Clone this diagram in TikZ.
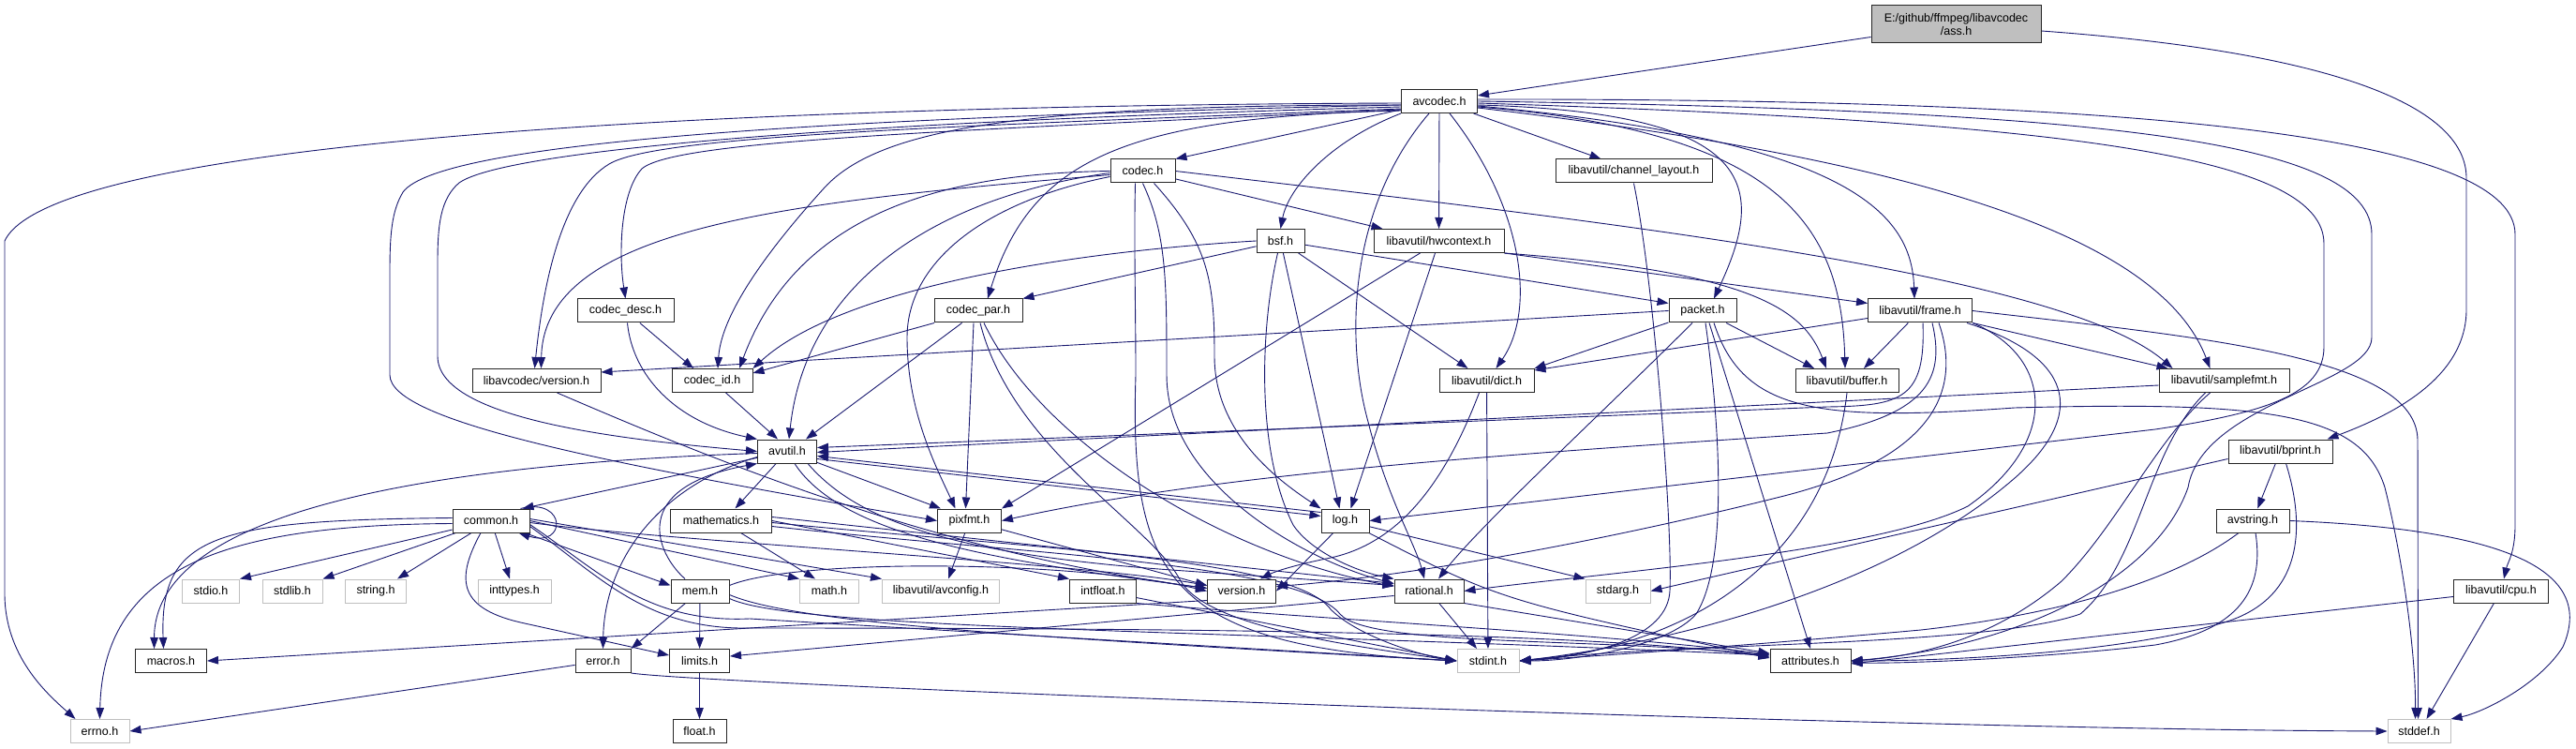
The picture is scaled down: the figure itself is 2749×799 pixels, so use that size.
\documentclass[tikz,border=0pt]{standalone}
\usepackage{fontspec}
\setmainfont{Liberation Sans}
\usetikzlibrary{arrows.meta}
\definecolor{edgeblue}{HTML}{191970}
\definecolor{sysgray}{HTML}{BFBFBF}
\definecolor{rootgray}{HTML}{BFBFBF}
\pgfdeclarelayer{bg}
\pgfsetlayers{bg,main}
\newcommand\nodefont{\fontsize{12.5}{14}\selectfont}
\begin{document}
\begin{tikzpicture}[x=1pt,y=-1pt,
  hdr/.style={draw=black!85, line width=1pt, fill=white, inner sep=0pt, minimum height=25pt, font=\nodefont, text=black},
  sys/.style={hdr, draw=sysgray},
  dep/.style={draw=edgeblue, line width=0.9pt, -{Triangle[length=12pt,width=8.5pt]}}]
\useasboundingbox (0,0) rectangle (2749,799);
% ---------- nodes ----------
\node[hdr, fill=rootgray, minimum width=181pt, minimum height=40pt, align=center] (ass) at (2087.5,26) {E:/github/ffmpeg/libavcodec\\/ass.h};
\node[hdr, minimum width=81pt] (avcodec) at (1536,108) {avcodec.h};
\node[hdr, minimum width=69pt] (codec) at (1219.5,182.5) {codec.h};
\node[hdr, minimum width=167pt] (chl) at (1743.5,182.5) {libavutil/channel\_layout.h};
\node[hdr, minimum width=51pt] (bsf) at (1366.5,257) {bsf.h};
\node[hdr, minimum width=139pt] (hwc) at (1535.5,257) {libavutil/hwcontext.h};
\node[hdr, minimum width=103pt] (cdesc) at (667.5,331.5) {codec\_desc.h};
\node[hdr, minimum width=94pt] (cpar) at (1044,331.5) {codec\_par.h};
\node[hdr, minimum width=72pt] (packet) at (1817,331.5) {packet.h};
\node[hdr, minimum width=111pt] (frame) at (2049,331.5) {libavutil/frame.h};
\node[hdr, minimum width=137pt] (lver) at (572.5,406) {libavcodec/version.h};
\node[hdr, minimum width=86pt] (cid) at (760,406) {codec\_id.h};
\node[hdr, minimum width=101pt] (dict) at (1586.5,406) {libavutil/dict.h};
\node[hdr, minimum width=110pt] (buffer) at (1971,406) {libavutil/buffer.h};
\node[hdr, minimum width=139pt] (sfmt) at (2373.5,406) {libavutil/samplefmt.h};
\node[hdr, minimum width=63pt] (avutil) at (840,481.5) {avutil.h};
\node[hdr, minimum width=111pt] (bprint) at (2433.5,481.5) {libavutil/bprint.h};
\node[hdr, minimum width=82pt] (common) at (524,555.5) {common.h};
\node[hdr, minimum width=108pt] (mathe) at (769.5,555.5) {mathematics.h};
\node[hdr, minimum width=68pt] (pixfmt) at (1034.5,555.5) {pixfmt.h};
\node[hdr, minimum width=51pt] (log) at (1435.5,555.5) {log.h};
\node[hdr, minimum width=78pt] (avstr) at (2404,555.5) {avstring.h};
\node[sys, minimum width=61pt] (stdio) at (225,630.5) {stdio.h};
\node[sys, minimum width=64pt] (stdlib) at (312,630.5) {stdlib.h};
\node[sys, minimum width=65pt] (string) at (401,630.5) {string.h};
\node[sys, minimum width=78pt] (inttypes) at (549,630.5) {inttypes.h};
\node[hdr, minimum width=62pt] (mem) at (747,630.5) {mem.h};
\node[sys, minimum width=63pt] (mathh) at (885,630.5) {math.h};
\node[sys, minimum width=125pt] (avconf) at (1004,630.5) {libavutil/avconfig.h};
\node[hdr, minimum width=71pt] (intfloat) at (1177,630.5) {intfloat.h};
\node[hdr, minimum width=73pt] (ver) at (1325,630.5) {version.h};
\node[hdr, minimum width=74pt] (rational) at (1525,630.5) {rational.h};
\node[sys, minimum width=69pt] (stdarg) at (1726.5,630.5) {stdarg.h};
\node[hdr, minimum width=101pt] (cpu) at (2669,630.5) {libavutil/cpu.h};
\node[hdr, minimum width=76pt] (macros) at (182.5,705) {macros.h};
\node[hdr, minimum width=59pt] (error) at (643.5,705) {error.h};
\node[hdr, minimum width=64pt] (limits) at (746.5,705) {limits.h};
\node[sys, minimum width=66pt] (stdint) at (1588,705) {stdint.h};
\node[hdr, minimum width=86pt] (attr) at (1932,705) {attributes.h};
\node[sys, minimum width=63pt] (errno) at (106.5,780) {errno.h};
\node[hdr, minimum width=57pt] (float) at (746.5,780) {float.h};
\node[sys, minimum width=67pt] (stddef) at (2581.5,780) {stddef.h};
% ---------- edges ----------
\begin{pgfonlayer}{bg}
\fill[white] (0,0) rectangle (2749,799);
% ass.h
\draw[dep] (ass) -- (avcodec);
\draw[dep] ([yshift=-7pt]ass.east) .. controls (2480,55) and (2632,110) .. (2632,190) -- (2632,330) .. controls (2632,400) and (2560,440) .. ([xshift=-6pt]bprint.north east);
% avcodec.h
\draw[dep] ([yshift=-2pt]avcodec.west) .. controls (900,112) and (60,140) .. (5,257) -- (5,633) .. controls (5,700) and (50,740) .. ([xshift=6pt]errno.north west);
\draw[dep] ([yshift=-4pt]avcodec.west) .. controls (900,125) and (470,150) .. (430,205) .. controls (418,225) and (416,250) .. (416,290) -- (416,400) .. controls (416,450) and (650,495) .. (pixfmt.west);
\draw[dep] ([yshift=-6pt]avcodec.west) .. controls (900,130) and (540,160) .. (490,195) .. controls (470,212) and (467,240) .. (467,280) -- (467,380) .. controls (467,445) and (650,468) .. (avutil.west);
\draw[dep] ([yshift=-8pt]avcodec.west) .. controls (1000,135) and (700,145) .. (650,175) .. controls (600,205) and (580,300) .. ([xshift=-2pt]lver.north);
\draw[dep] ([yshift=-9pt]avcodec.west) .. controls (1000,140) and (720,150) .. (685,180) .. controls (662,205) and (660,270) .. (cdesc.north);
\draw[dep] ([yshift=-4pt]avcodec.west) .. controls (1100,112) and (940,135) .. (880,200) .. controls (830,255) and (770,330) .. ([xshift=6pt]cid.north);
\draw[dep] ([yshift=-10pt]avcodec.west) .. controls (1200,125) and (1100,170) .. ([xshift=10pt]cpar.north);
\draw[dep] (avcodec) -- (codec.north east);
\draw[dep] (avcodec.south west) .. controls (1420,150) and (1375,200) .. (bsf.north);
\draw[dep] (avcodec) -- (hwc);
\draw[dep] (avcodec) -- ([xshift=-35pt]chl.north);
\draw[dep] ([xshift=-11pt]avcodec.south) .. controls (1440,220) and (1435,360) .. (1460,450) .. controls (1480,530) and (1510,580) .. ([xshift=-5pt]rational.north);
\draw[dep] ([xshift=11pt]avcodec.south) .. controls (1625,220) and (1640,330) .. ([xshift=10pt]dict.north);
\draw[dep] ([yshift=-4pt]avcodec.east) .. controls (1880,120) and (1885,200) .. ([xshift=12pt]packet.north);
\draw[dep] ([yshift=-6pt]avcodec.east) .. controls (1900,140) and (1965,240) .. ([xshift=-2pt]buffer.north);
\draw[dep] ([yshift=-5pt]avcodec.east) .. controls (1980,150) and (2040,230) .. ([xshift=-6pt]frame.north);
\draw[dep] ([yshift=-7pt]avcodec.east) .. controls (2000,165) and (2300,240) .. ([xshift=-15pt]sfmt.north);
\draw[dep] ([yshift=-2pt]avcodec.east) .. controls (2200,130) and (2480,165) .. (2480,260) -- (2480,370) .. controls (2480,420) and (2420,440) .. (2300,458) -- (log.east);
\draw[dep] (avcodec.east) .. controls (2250,118) and (2531,150) .. (2531,250) -- (2531,360) .. controls (2531,410) and (2350,430) .. (2335,520) .. controls (2300,620) and (2150,690) .. (attr.east);
\draw[dep] ([yshift=2pt]avcodec.east) .. controls (2250,105) and (2684,140) .. (2684,250) -- (2684,560) .. controls (2684,590) and (2676,600) .. ([xshift=3pt]cpu.north);
% codec.h
\draw[dep] (codec.west) .. controls (1000,185) and (850,230) .. ([xshift=29pt]cid.north);
\draw[dep] ([yshift=-4pt]codec.west) .. controls (850,215) and (580,240) .. ([xshift=5pt]lver.north);
\draw[dep] ([yshift=-6pt]codec.west) .. controls (1050,215) and (968,280) .. (968,360) .. controls (968,440) and (1000,500) .. ([xshift=-15pt]pixfmt.north);
\draw[dep] ([yshift=-2pt]codec.west) .. controls (1000,210) and (860,300) .. ([xshift=2pt]avutil.north);
\draw[dep] (codec) -- ([xshift=10pt]hwc.north west);
\draw[dep] (codec.east) .. controls (1700,235) and (2200,290) .. ([xshift=-55pt]sfmt.north);
\draw[dep] ([xshift=12pt]codec.south) .. controls (1290,260) and (1296,300) .. (1296,380) .. controls (1296,460) and (1360,510) .. (log.north west);
\draw[dep] (codec.south) .. controls (1245,250) and (1245,300) .. (1245,400) .. controls (1245,520) and (1400,600) .. ([yshift=8pt]rational.west);
\draw[dep] ([xshift=-8pt]codec.south) .. controls (1210,260) and (1212,330) .. (1212,400) .. controls (1205,620) and (1250,690) .. (stdint.west);
% codec_desc.h, codec_par.h, codec_id.h
\draw[dep] (cdesc) -- ([xshift=-20pt]cid.north);
\draw[dep] ([xshift=2pt]cdesc.south) .. controls (675,400) and (720,450) .. (avutil.north west);
\draw[dep] (cpar) -- ([yshift=-5pt]cid.north east);
\draw[dep] (cpar) -- ([xshift=20pt]avutil.north);
\draw[dep] ([xshift=-5pt]cpar.south) -- ([xshift=-4pt]pixfmt.north);
\draw[dep] ([xshift=6pt]cpar.south) .. controls (1110,470) and (1300,590) .. ([yshift=5pt]rational.west);
\draw[dep] ([xshift=2pt]cpar.south) .. controls (1080,480) and (1230,560) .. (1260,620) .. controls (1290,670) and (1450,690) .. (stdint.west);
\draw[dep] (cid) -- ([xshift=-10pt]avutil.north);
% libavcodec/version.h
\draw[dep] ([xshift=22pt]lver.south) .. controls (760,490) and (1000,590) .. ([yshift=3pt]ver.west);
% bsf.h
\draw[dep] (bsf) -- (cpar.north east);
\draw[dep] (bsf.west) .. controls (1150,268) and (900,305) .. (cid.north east);
\draw[dep] (bsf) -- ([yshift=8pt]packet.west);
\draw[dep] (bsf) -- ([xshift=-20pt]dict.north);
\draw[dep] (bsf) -- ([xshift=-6pt]log.north);
\draw[dep] ([xshift=-3pt]bsf.south) .. controls (1345,350) and (1340,480) .. (1380,560) .. controls (1400,590) and (1450,610) .. (rational.north west);
% hwcontext.h
\draw[dep] (hwc.south east) .. controls (1870,290) and (1925,330) .. ([xshift=-22pt]buffer.north);
\draw[dep] (hwc.south east) -- ([yshift=8pt]frame.west);
\draw[dep] ([xshift=-4pt]hwc.south) .. controls (1505,350) .. ([xshift=6pt]log.north);
\draw[dep] ([xshift=-20pt]hwc.south) -- (pixfmt.north east);
% channel_layout.h
\draw[dep] (chl.south) .. controls (1765,300) and (1785,560) .. (1782,630) .. controls (1780,680) and (1700,700) .. (stdint.east);
% packet.h
\draw[dep] (packet.west) -- ([yshift=9pt]lver.east);
\draw[dep] (packet) -- (dict.north east);
\draw[dep] (packet) -- ([xshift=-35pt]buffer.north);
\draw[dep] ([xshift=-11pt]packet.south) .. controls (1700,450) and (1580,560) .. ([xshift=10pt]rational.north);
\draw[dep] ([xshift=3pt]packet.south) .. controls (1835,450) and (1845,600) .. (1810,655) .. controls (1780,690) and (1680,705) .. (stdint.east);
\draw[dep] ([xshift=7pt]packet.south) -- (attr.north);
\draw[dep] ([xshift=12pt]packet.south) .. controls (1860,440) and (1940,450) .. (2150,435) .. controls (2420,428) and (2520,440) .. (2545,520) .. controls (2565,600) and (2578,700) .. ([xshift=-4pt]stddef.north);
% frame.h
\draw[dep] (frame) -- ([xshift=18pt]buffer.north);
\draw[dep] ([yshift=-8pt]frame.west) -- ([yshift=-2pt]dict.north east);
\draw[dep] (frame) -- ([xshift=-60pt]sfmt.north);
\draw[dep] ([xshift=3pt]frame.south) .. controls (2055,425) and (2030,433) .. (1950,434) -- ([yshift=4pt]avutil.east);
\draw[dep] ([xshift=13pt]frame.south) .. controls (2075,400) and (2060,440) .. (1950,462) .. controls (1600,485) and (1300,505) .. (pixfmt.east);
\draw[dep] ([xshift=20pt]frame.south) .. controls (2095,420) and (2060,490) .. (1900,530) .. controls (1700,580) and (1500,615) .. ([yshift=5pt]ver.east);
\draw[dep] (frame.south east) .. controls (2190,380) and (2200,470) .. (2100,540) .. controls (2000,590) and (1700,612) .. (rational.east);
\draw[dep] ([xshift=50pt]frame.south) .. controls (2210,380) and (2230,440) .. (2150,510) .. controls (2000,640) and (1750,690) .. (stdint.east);
\draw[dep] (frame.east) .. controls (2350,360) and (2580,380) .. (2580,470) -- ([xshift=-1pt]stddef.north);
% dict.h, buffer.h
\draw[dep] (dict) -- (stdint);
\draw[dep] ([xshift=-8pt]dict.south) .. controls (1540,520) and (1490,580) .. (1420,595) .. controls (1380,603) and (1360,610) .. ([xshift=20pt]ver.north);
\draw[dep] (buffer.south) .. controls (1950,600) and (1800,690) .. (stdint.east);
% samplefmt.h
\draw[dep] ([yshift=-5pt]sfmt.west) -- ([yshift=-1pt]avutil.east);
\draw[dep] ([xshift=-15pt]sfmt.south) .. controls (2300,470) and (2260,560) .. (2200,620) .. controls (2130,680) and (2050,700) .. (attr.east);
\draw[dep] ([xshift=-20pt]sfmt.south) .. controls (2290,480) and (2285,600) .. (2220,655) .. controls (2120,690) and (1800,685) .. (stdint.east);
% bprint.h
\draw[dep] (bprint) -- (avstr);
\draw[dep] ([xshift=6pt]bprint.south) .. controls (2460,560) and (2460,640) .. (2370,665) .. controls (2250,700) and (2050,705) .. (attr.east);
\draw[dep] ([yshift=-8pt]bprint.west) -- (stdarg.east);
% avstring.h
\draw[dep] (avstr.east) .. controls (2680,565) and (2770,610) .. (2735,690) .. controls (2710,730) and (2650,760) .. (stddef.north east);
\draw[dep] ([xshift=-15pt]avstr.south) .. controls (2320,620) and (2200,655) .. (2050,672) .. controls (1850,690) and (1700,700) .. (stdint.east);
\draw[dep] ([xshift=3pt]avstr.south) .. controls (2415,620) and (2400,670) .. (2300,688) .. controls (2200,700) and (2050,708) .. ([yshift=-2pt]attr.east);
% cpu.h
\draw[dep] (cpu) -- ([xshift=8pt]stddef.north);
\draw[dep] ([yshift=-6pt]cpu.west) -- ([yshift=-3pt]attr.east);
% avutil.h
\draw[dep] (avutil) -- ([xshift=-8pt]common.north east);
\draw[dep] ([yshift=-6pt]avutil.west) .. controls (700,520) and (645,600) .. (error.north);
\draw[dep] ([yshift=-2pt]avutil.west) .. controls (480,495) and (165,540) .. ([xshift=-18pt]macros.north);
\draw[dep] (avutil) -- ([xshift=15pt]mathe.north);
\draw[dep] ([yshift=-8pt]avutil.east) -- ([yshift=5pt]log.west);
\draw[dep] (avutil) -- ([xshift=4pt]pixfmt.north west);
\draw[dep] ([xshift=22pt]avutil.south) .. controls (910,550) and (1000,590) .. (1250,608) -- ([yshift=6pt]rational.west);
\draw[dep] ([xshift=8pt]avutil.south) .. controls (900,575) and (1080,600) .. ([yshift=3pt]ver.west);
% log.h
\draw[dep] (log) -- (stdarg.north west);
\draw[dep] (log) .. controls (1600,640) .. ([yshift=3pt]attr.west);
\draw[dep] (log) -- (ver.east);
\draw[dep] ([yshift=9pt]log.west) -- ([yshift=-5pt]avutil.east);
% pixfmt.h
\draw[dep] (pixfmt) -- ([xshift=8pt]avconf.north);
\draw[dep] (pixfmt) -- ([yshift=6pt]ver.west);
% common.h
\draw[dep] (common) -- (stdio.north east);
\draw[dep] (common) -- (stdlib.north east);
\draw[dep] (common) -- ([xshift=-10pt]string.north east);
\draw[dep] (common) -- ([xshift=-5pt]inttypes.north);
\draw[dep] ([yshift=-3pt]common.west) .. controls (250,560) and (110,600) .. (errno.north);
\draw[dep] ([yshift=3pt]common.west) .. controls (230,555) and (170,570) .. ([xshift=-8pt]macros.north);
\draw[dep] ([xshift=-10pt]common.north east) .. controls (605,530) and (605,585) .. ([xshift=-12pt]common.south east);
\draw[dep] (common) -- ([yshift=6pt]mem.west);
\draw[dep] ([xshift=-11pt]common.south) .. controls (485,620) and (490,650) .. (560,665) -- ([yshift=6pt]limits.west);
\draw[dep] (common.east) -- (mathh.north west);
\draw[dep] ([yshift=2pt]common.east) -- (avconf.north west);
\draw[dep] ([yshift=-2pt]common.east) .. controls (720,578) and (1150,600) .. ([yshift=6pt]ver.west);
\draw[dep] ([yshift=-4pt]common.east) .. controls (640,610) and (690,665) .. (800,660) -- (stdint.west);
\draw[dep] ([yshift=-6pt]common.east) .. controls (640,615) and (690,672) .. (800,670) .. controls (1300,670) and (1700,675) .. ([yshift=4pt]attr.west);
% mem.h
\draw[dep] (mem) -- (limits);
\draw[dep] ([xshift=-16pt]mem.north) .. controls (700,590) and (670,520) .. (avutil.south west);
\draw[dep] (mem) -- (error.north east);
\draw[dep] ([yshift=6pt]mem.east) .. controls (850,595) and (1150,598) .. (ver.west);
\draw[dep] ([yshift=-4pt]mem.east) .. controls (850,665) and (1100,680) .. (stdint.west);
\draw[dep] ([yshift=-8pt]mem.east) .. controls (850,672) and (1300,672) .. ([yshift=6pt]attr.west);
% mathematics.h
\draw[dep] (mathe) -- ([xshift=-15pt]mathh.north);
\draw[dep] (mathe.east) -- (intfloat.north west);
\draw[dep] ([yshift=4pt]mathe.east) -- ([yshift=8pt]rational.west);
\draw[dep] ([yshift=-2pt]mathe.east) .. controls (1100,585) and (1380,595) .. (1420,650) .. controls (1450,680) and (1520,700) .. (stdint.west);
\draw[dep] ([yshift=-6pt]mathe.east) .. controls (1100,592) and (1385,600) .. (1430,655) .. controls (1460,690) and (1700,680) .. ([yshift=6pt]attr.west);
% intfloat.h
\draw[dep] (intfloat) -- (stdint.west);
\draw[dep] (intfloat.south east) .. controls (1400,660) and (1700,675) .. ([yshift=7pt]attr.west);
% version.h
\draw[dep] ([yshift=-10pt]ver.west) -- (macros.east);
% rational.h
\draw[dep] (rational) -- ([xshift=-12pt]stdint.north);
\draw[dep] (rational.south east) -- ([yshift=8pt]attr.west);
\draw[dep] ([yshift=-5pt]rational.west) -- ([yshift=5pt]limits.east);
% error.h, limits.h
\draw[dep] (error) -- (errno.east);
\draw[dep] (error.south east) .. controls (750,730) and (2000,778) .. (stddef.west);
\draw[dep] (limits) -- (float);
\end{pgfonlayer}
\end{tikzpicture}
\end{document}
